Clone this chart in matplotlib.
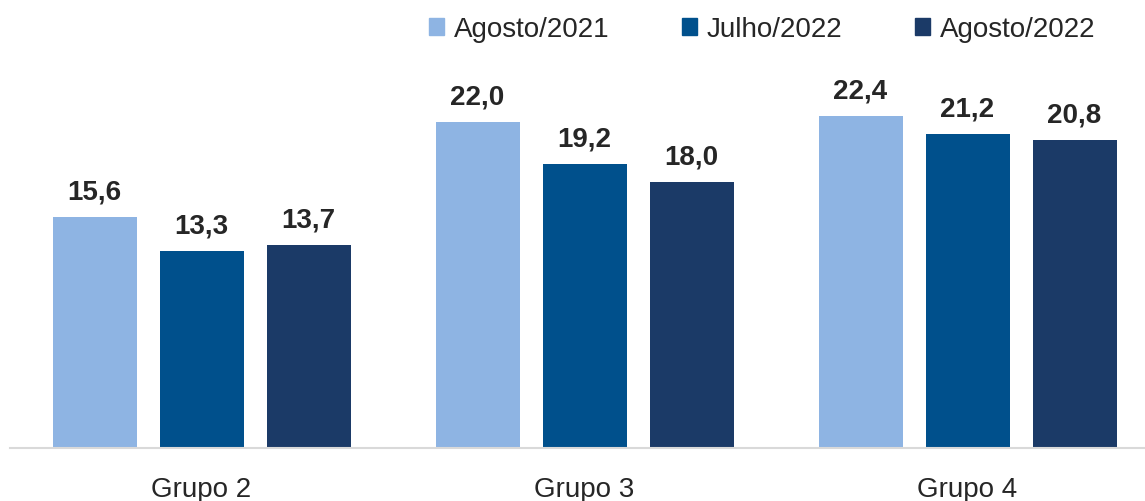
import matplotlib.pyplot as plt
import numpy as np
from matplotlib.patches import Patch

plt.rcParams['font.family'] = ['Liberation Sans', 'DejaVu Sans']

grupos = ['Grupo 2', 'Grupo 3', 'Grupo 4']
series = ['Agosto/2021', 'Julho/2022', 'Agosto/2022']
ago21 = [15.6, 22.0, 22.4]
jul22 = [13.3, 19.2, 21.2]
ago22 = [13.7, 18.0, 20.8]
cores = ['#8EB4E3', '#00508C', '#1B3A67']

W, H = 1145, 502
fig = plt.figure(figsize=(W / 100, H / 100), dpi=100)
# axes placed in pixel terms: left x=10, baseline y=449, top y=60
ax = fig.add_axes([10 / W, (H - 449) / H, 1 - 10 / W, (449 - 60) / H])

x = np.arange(len(grupos))
step = 107 / 383
width = 84 / 383
for i, (vals, cor, nome) in enumerate(zip([ago21, jul22, ago22], cores, series)):
    pos = x + (i - 1) * step
    bars = ax.bar(pos, vals, width, color=cor, label=nome)
    for b, v in zip(bars, vals):
        ax.annotate(f'{v:.1f}'.replace('.', ','), (b.get_x() + b.get_width() / 2, v),
                    xytext=(0, 9), textcoords='offset points', ha='center', va='bottom',
                    fontsize=20, fontweight='bold', color='#262626')

ax.set_xlim(-0.5, -0.5 + (W - 10) / 383)
ax.set_ylim(0, (449 - 60) / 14.8)
ax.set_xticks(x)
ax.set_xticklabels(grupos, fontsize=20, color='#262626')
ax.tick_params(axis='x', length=0, pad=20)
ax.set_yticks([])
for s in ['top', 'right', 'left']:
    ax.spines[s].set_visible(False)
ax.spines['bottom'].set_color('#D9D9D9')
ax.spines['bottom'].set_linewidth(1.5)

handles = [Patch(color=c) for c in cores]
fig.legend(handles, series, loc='center', bbox_to_anchor=(762 / W, 1 - 30 / H),
           ncol=3, frameon=False, fontsize=20, handlelength=0.55, handleheight=0.55,
           handletextpad=0.35, columnspacing=2.6, labelcolor='#262626')

fig.savefig('out.png', dpi=100)
